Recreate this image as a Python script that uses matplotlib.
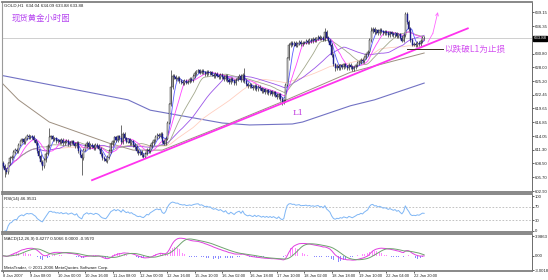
import numpy as np
import pandas as pd
import matplotlib
matplotlib.use("Agg")
import matplotlib.pyplot as plt

plt.rcParams['font.family'] = ['Noto Sans CJK SC', 'DejaVu Sans']

# hourly closes, one row per 16 bars (one row per time label)
closes = [
    608.0, 607.2, 606.8, 608.5, 609.6, 609.9, 610.8, 611.2, 611.0, 612.3, 613.0, 613.4, 612.8, 613.6, 614.1, 613.8,
    614.0, 613.9, 613.2, 612.6, 611.0, 610.0, 608.8, 608.0, 609.2, 610.5, 612.0, 613.8, 614.0, 613.4, 613.6, 613.0,
    613.2, 612.8, 613.3, 612.6, 612.9, 613.1, 612.4, 612.7, 613.0, 612.5, 612.0, 612.6, 611.0, 610.2, 609.5, 611.3,
    612.0, 612.6, 611.8, 612.3, 612.0, 611.6, 612.2, 612.0, 611.5, 610.4, 609.6, 609.3, 609.0, 609.8, 611.0, 612.4,
    613.0, 613.8, 613.2, 614.0, 613.6, 612.8, 614.5, 613.6, 612.9, 613.4, 612.6, 613.0, 612.2, 611.8, 611.0, 610.6,
    610.8, 610.2, 609.9, 610.5, 611.3, 611.0, 612.0, 612.6, 613.2, 613.9, 614.3, 614.0, 614.5, 613.0, 612.5, 613.5,
    616.8, 620.5, 624.0, 626.3, 626.0, 625.6, 625.8, 625.2, 625.0, 624.8, 625.3, 624.9, 625.1, 625.6, 625.4, 626.2,
    626.8, 627.2, 627.4, 626.9, 627.3, 627.0, 626.6, 627.1, 626.8, 627.0, 626.5, 626.2, 626.6, 626.3, 626.0, 626.4,
    626.0, 625.6, 626.2, 625.4, 625.0, 625.7, 625.3, 624.8, 625.5, 625.9, 626.2, 625.4, 626.5, 625.2, 624.6, 624.2,
    624.5, 624.1, 623.8, 624.3, 623.6, 624.0, 623.7, 623.2, 623.5, 623.0, 623.3, 622.8, 623.1, 622.6, 622.9, 622.4,
    622.0, 622.5, 621.6, 621.0, 621.3, 624.5, 629.8, 632.5, 633.0, 632.6, 632.9, 632.4, 632.8, 633.2, 632.7, 633.0,
    633.0, 633.4, 633.1, 633.6, 633.3, 633.7, 633.5, 633.9, 634.2, 633.8, 634.0, 633.6, 635.2, 634.0, 633.4, 632.6,
    630.5, 628.6, 627.8, 628.3, 627.9, 628.4, 628.0, 628.6, 628.2, 627.8, 628.5, 628.1, 627.6, 628.0, 628.4, 628.9,
    629.0, 629.5, 629.2, 630.0, 630.6, 631.2, 633.5, 635.4, 635.8, 635.2, 635.5, 635.0, 635.6, 635.3, 634.9, 635.2,
    635.0, 634.6, 635.1, 634.8, 634.5, 634.9, 634.3, 634.7, 634.0, 633.4, 634.5, 638.8, 637.2, 635.8, 633.5, 632.6,
    632.8, 632.5, 633.0, 632.7, 633.3, 634.0, 633.88,
]
first_open = 608.6

# notable wicks (bar -> price)
spike_high = {27: 615.7, 69: 616.3, 98: 627.4, 141: 627.8, 188: 636.0, 235: 639.3, 215: 636.2}
spike_low = {1: 605.7, 23: 607.2, 46: 606.1, 60: 608.8, 82: 609.6, 163: 620.4, 194: 627.2}

# long moving averages (bar, price)
ma_brown_bars = [0, 9, 27, 62, 76, 93, 133, 163, 203, 246]
ma_brown = [624.6, 621.4, 616.9, 612.6, 611.2, 611.2, 616.7, 621.0, 627.0, 630.9]
ma_slate_bars = [0, 73, 86, 128, 144, 169, 175, 203, 217, 246]
ma_slate = [626.3, 621.4, 619.3, 616.7, 616.3, 616.5, 616.9, 620.2, 621.4, 624.8]

# trend line L1 and hand drawn marks
l1_bars = [52, 271.5]
l1_prices = [605.1, 635.9]
stop_bars = [236, 257]
stop_prices = [631.7, 631.7]
arrow_bars = [248.2, 251.1, 254.0]
arrow_prices = [633.1, 634.9, 639.2]

time_labels = ["8 Jan 2007", "9 Jan 08:00", "10 Jan 00:00", "10 Jan 16:00", "11 Jan 08:00",
               "12 Jan 00:00", "12 Jan 16:00", "15 Jan 10:00", "16 Jan 02:00", "16 Jan 18:00",
               "17 Jan 10:00", "18 Jan 02:00", "18 Jan 18:00", "19 Jan 10:00", "22 Jan 04:00",
               "22 Jan 20:00"]
price_ticks = [639.15, 636.35, 630.80, 628.00, 625.20, 622.45, 619.65, 616.85, 614.05,
               611.30, 608.50, 605.70, 602.90]
last_price = 633.88

c = np.array(closes)
n = len(c)
x = np.arange(n)
o = np.r_[first_open, c[:-1]]
hi = np.maximum(o, c) + 0.35
lo = np.minimum(o, c) - 0.35
for k, v in spike_high.items():
    hi[k] = v
for k, v in spike_low.items():
    lo[k] = v

s = pd.Series(c)
ma_specs = [(55, "#ffcfc0"), (34, "#9b55e8"), (20, "#a3a88c"), (10, "#ff44ff"), (5, "#5a5aff")]

# RSI(14)
d = s.diff()
up = d.clip(lower=0).ewm(alpha=1/14, adjust=False).mean()
dn = (-d.clip(upper=0)).ewm(alpha=1/14, adjust=False).mean()
rsi = 100 - 100 / (1 + up / dn)

# MACD(12,26,9)
macd = s.ewm(span=12, adjust=False).mean() - s.ewm(span=26, adjust=False).mean()
signal = macd.rolling(9, min_periods=1).mean()
hist = macd - signal

fig = plt.figure(figsize=(5.48, 2.80), dpi=100)
W, H = 548, 280
def box(x0, y0, x1, y1):
    return [x0 / W, 1 - y1 / H, (x1 - x0) / W, (y1 - y0) / H]

ax = fig.add_axes(box(2, 2, 532, 192))
ax_rsi = fig.add_axes(box(2, 194, 532, 232))
ax_macd = fig.add_axes(box(2, 234, 532, 271))

small = 'Liberation Sans'
xlim = (-0.6, 309)
for a in (ax, ax_rsi, ax_macd):
    a.set_xlim(*xlim)
    a.yaxis.tick_right()
    a.tick_params(axis='y', labelsize=3.1, length=1.5, width=0.5, pad=0.6, colors='#222222')
    a.set_xticks([])
    for side in ('top', 'bottom'):
        a.spines[side].set_color('#7f7f7f')
        a.spines[side].set_linewidth(1.3)
    a.spines['left'].set_color('#9a9a9a')
    a.spines['left'].set_linewidth(0.8)
    a.spines['right'].set_color('#555555')
    a.spines['right'].set_linewidth(0.6)

# main chart
ax.set_ylim(602.7, 641.25)
ax.set_yticks(price_ticks)
ax.set_yticklabels([f"{p:.2f}" for p in price_ticks], family=small)
ax.axhline(last_price, color='#c8c8c8', lw=0.6, zorder=1)

ax.plot(ma_slate_bars, ma_slate, color='#7272c4', lw=0.8, zorder=2)
ax.plot(ma_brown_bars, ma_brown, color='#9d8f80', lw=0.7, zorder=2)
for per, col in ma_specs:
    ax.plot(x, s.rolling(per, min_periods=1).mean(), color=col, lw=0.6, zorder=2)

ax.vlines(x, lo, hi, color='#333333', lw=0.5, zorder=3)
bull = c >= o
ax.bar(x[bull], (c - o)[bull], bottom=o[bull], width=0.6, color='white',
       edgecolor='#111111', lw=0.3, zorder=4)
ax.bar(x[~bull], (o - c)[~bull], bottom=c[~bull], width=0.6, color='#1c1c8a',
       edgecolor='#1c1c8a', lw=0.3, zorder=4)

ax.plot(l1_bars, l1_prices, color='#ff33ee', lw=1.3, zorder=5)
ax.plot(stop_bars, stop_prices, color='#3a3020', lw=0.7, zorder=5)
ax.plot(arrow_bars[:2], arrow_prices[:2], color='#ff66ff', lw=0.6, zorder=5)
ax.annotate("", xy=(arrow_bars[2], arrow_prices[2]), xytext=(arrow_bars[1], arrow_prices[1]),
            arrowprops=dict(arrowstyle='->', color='#ff66ff', lw=0.6, shrinkA=0, shrinkB=0,
                            mutation_scale=5), zorder=5)

ax.text(0.004, 0.993, "GOLD,H1  634.04 634.09 633.88 633.88", transform=ax.transAxes,
        fontsize=3.2, ha='left', va='top', color='#222222', family=small)
ax.text(0.019, 0.915, "现货黄金小时图", transform=ax.transAxes, fontsize=6,
        color='#b544f0', ha='left', va='center')
ax.text(257.5, 631.6, "以跌破L1为止损", fontsize=6.2, color='#d24ef0', ha='left', va='center')
ax.text(169, 618.8, "L1", fontsize=6, color='#c23fe0', ha='left', va='center', family='DejaVu Serif')
ax.text(1.003, (last_price - 602.7) / (641.25 - 602.7), f"{last_price:.2f}", transform=ax.transAxes,
        fontsize=3.1, color='white', ha='left', va='center', family=small,
        bbox=dict(boxstyle='square,pad=0.15', fc='black', ec='black'))

# RSI panel
ax_rsi.set_ylim(-3, 106)
ax_rsi.set_yticks([100, 70, 30, 0])
ax_rsi.set_yticklabels(["100", "70", "30", "0"], family=small)
ax_rsi.axhline(70, color='#b8b8b8', lw=0.6, ls=(0, (2, 2)))
ax_rsi.axhline(30, color='#b8b8b8', lw=0.6, ls=(0, (2, 2)))
ax_rsi.plot(x, rsi, color='#7fb6f5', lw=0.7)
ax_rsi.text(0.004, 0.93, "RSI(14) 46.9531", transform=ax_rsi.transAxes, fontsize=3.2,
            ha='left', va='top', color='#222222', family=small)

# MACD panel
ax_macd.set_ylim(-3.15, 4.5)
ax_macd.set_yticks([3.9863, 0.0, -3.0018])
ax_macd.set_yticklabels(["3.9863", "0.00", "-3.0018"], family=small)
hcol = np.where(hist >= 0, '#ff88ff', '#8a8aff')
ax_macd.bar(x, hist, width=0.35, color=hcol, zorder=2)
ax_macd.plot(x, macd, color='#e040e0', lw=0.7, zorder=3)
ax_macd.plot(x, signal, color='#6fa36f', lw=0.7, zorder=3)
ax_macd.text(0.004, 0.93, "MACD(12,26,9) 0.4277 0.5066 0.0000 -0.9570", transform=ax_macd.transAxes,
             fontsize=3.2, ha='left', va='top', color='#222222', family=small)
ax_macd.text(0.004, 0.03, "MetaTrader, © 2001-2006 MetaQuotes Software Corp.", transform=ax_macd.transAxes,
             fontsize=3.2, ha='left', va='bottom', color='#222222', family=small)

ax_macd.set_xticks(np.arange(len(time_labels)) * 16)
ax_macd.set_xticklabels(time_labels, ha='left', family=small)
ax_macd.tick_params(axis='x', labelsize=2.9, length=1.5, width=0.5, pad=0.5, colors='#222222')

fig.savefig("out.png", dpi=100, facecolor='white')
